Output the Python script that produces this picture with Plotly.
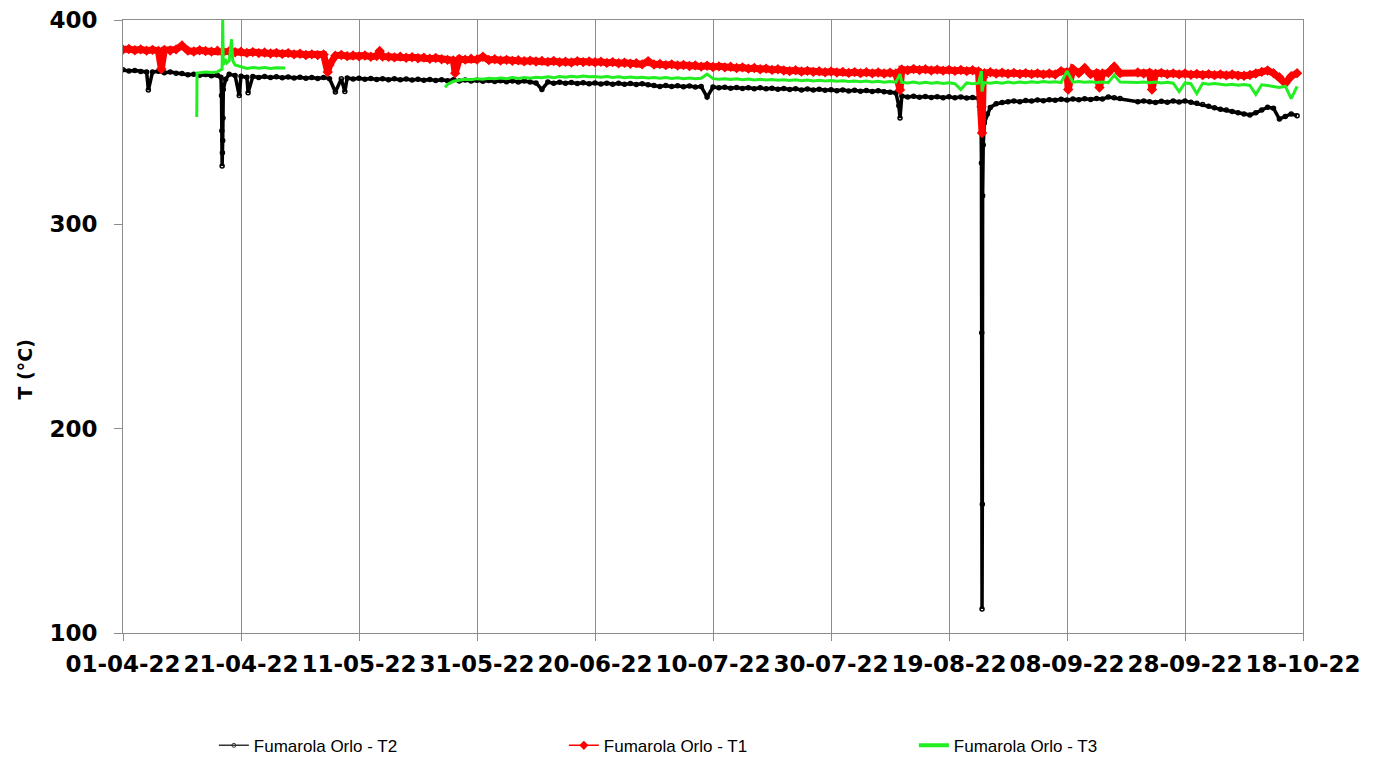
import pandas as pd
import plotly.graph_objects as go

START = "2022-04-01"
END = "2022-10-18"

# ---- Fumarola Orlo - T1 (red): daily readings, day 0 = 01-04-22; None = no data
t1_daily = [
    385.5, 385.8, 385.2, 385.6, 385.0, 385.4, 384.9, 385.3, 385.1, 385.6,
    387.5, 385.0, 384.6, 385.2, 384.8, 384.5, 385.0, 384.4, 384.7, 384.2,
    384.5, 383.9, 384.3, 383.8, 384.1, 383.6, 383.9, 383.4, 383.8, 383.2,
    383.5, 382.9, 383.2, 382.8, 383.1, 378.0, 382.5, 382.9, 382.3, 382.6,
    382.2, 382.6, 382.0, 382.4, 382.1, 382.0, 381.7, 382.1, 381.5, 381.8,
    381.3, 381.6, 381.0, 381.4, 380.8, 380.5, 380.2, 380.9, 380.6, 381.0,
    380.7, 382.0, 380.4, 380.8, 380.2, 380.5, 380.0, 380.3, 379.8, 380.1,
    379.7, 380.0, 379.5, 379.9, 379.3, 379.6, 379.2, 379.8, 379.4, 379.7,
    379.3, 379.6, 379.0, 379.4, 378.8, 379.1, 378.6, 378.9, 378.3, 379.8,
    378.2, 378.5, 377.9, 378.3, 377.7, 378.0, 377.5, 377.8, 377.2, 377.6,
    377.0, 377.3, 376.8, 377.1, 376.5, 376.8, 376.2, 376.5, 375.9, 376.2,
    375.6, 375.9, 375.3, 375.0, 375.4, 374.8, 375.1, 374.6, 374.9, 374.4,
    374.8, 374.3, 374.6, 374.1, 374.5, 374.0, 374.4, 373.9, 374.3, 373.8,
    374.2, 373.8, 375.8, 375.4, 376.0, 375.5, 375.9, 375.3, 375.7, 375.2,
    375.6, 375.1, 375.5, 375.0, 375.4, 374.8, 374.0, 374.4, 373.8, 374.2,
    373.7, 374.1, 373.6, 374.0, 373.5, 373.9, 373.4, 373.8, 373.3, 375.0,
    374.5, 376.0, 374.0, 376.5, 373.5, 374.0, 373.8, 374.2, 377.2, 374.0,
    None, None, 374.3, 373.8, 374.2, 373.7, 374.1, 373.5, 373.9, 373.4,
    373.8, 373.2, 373.6, 373.1, 373.5, 373.0, 373.4, 372.9, 373.3, 372.8,
    372.7, 373.1, 373.8, 374.6, 375.3, 374.0, 372.0, 369.0, 372.5, 374.0,
]
t1_evt_day = [6.5, 34.7, 43.5, 56.3, 131.7, 145.5, 145.6, 145.8, 160.2, 165.5, 174.4]
t1_evt_val = [376.0, 374.5, 384.8, 374.0, 365.8, 357.6, 344.7, 372.0, 366.0, 367.0, 366.0]

# ---- Fumarola Orlo - T2 (black)
t2_daily = [
    375.6, 375.0, 375.3, 374.8, 374.6, 374.5, 374.9, 374.2, 374.6, 374.0,
    373.8, 373.2, 373.5, 372.9, 373.3, 372.7, 373.0, 366.0, 373.5, 372.8,
    372.5, 372.0, 372.4, 371.9, 372.3, 371.8, 372.2, 371.7, 372.1, 371.6,
    372.0, 371.5, 371.9, 371.4, 371.8, 371.3, 364.8, 371.2, 371.6, 371.1,
    371.5, 371.0, 371.4, 370.9, 371.3, 370.8, 371.2, 370.7, 371.1, 370.6,
    371.0, 370.5, 370.9, 370.4, 370.8, 370.3, 370.7, 370.2, 370.6, 370.1,
    370.5, 370.0, 370.4, 369.9, 370.3, 369.8, 370.2, 369.7, 370.1, 369.6,
    369.2, 366.0, 369.6, 369.1, 369.5, 369.0, 369.4, 368.9, 369.3, 368.8,
    369.2, 368.7, 369.1, 368.6, 369.0, 368.5, 368.9, 368.4, 368.8, 368.3,
    368.0, 367.5, 367.9, 367.4, 367.8, 367.3, 367.7, 367.2, 367.4, 362.3,
    367.2, 366.8, 367.1, 366.6, 367.0, 366.5, 366.9, 366.4, 366.8, 366.3,
    366.6, 366.1, 366.5, 366.0, 366.3, 365.8, 366.2, 365.7, 366.1, 365.6,
    365.9, 365.4, 365.8, 365.3, 365.6, 365.1, 365.5, 365.0, 365.4, 364.9,
    364.6, 364.3, 362.8, 362.3, 362.7, 362.2, 362.6, 362.1, 362.5, 362.0,
    362.4, 361.9, 362.3, 361.8, 362.1, 361.7, 349.6, 357.2, 359.0, 359.6,
    360.0, 360.3, 360.0, 360.6, 360.3, 360.9, 360.5, 361.0, 360.7, 361.2,
    360.8, 361.3, 361.0, 361.5, 361.1, 361.6, 361.3, 362.3, 361.9, 361.6,
    None, None, 360.0, 360.4, 360.0, 359.6, 360.2, 359.8, 360.3, 359.9,
    360.4, 359.8, 359.2, 358.6, 357.8, 357.0, 356.3, 355.9, 355.2, 354.6,
    354.0, 353.5, 354.6, 356.0, 357.3, 356.8, 351.5, 352.8, 354.0, 353.2,
]
t2_evt_day = [4.3, 16.6, 16.7, 16.75, 16.8, 16.85, 16.9, 16.95, 17.4, 19.7, 21.2,
              37.6, 131.5, 131.7, 145.4, 145.5, 145.55, 145.6, 145.65, 145.7,
              145.8, 146.5]
t2_evt_val = [365.7, 372.0, 363.0, 345.8, 328.5, 335.0, 341.0, 352.0, 371.0, 363.0, 364.4,
              365.0, 358.0, 352.0, 361.5, 330.0, 247.0, 111.7, 163.0, 314.0,
              338.8, 354.0]

# ---- Fumarola Orlo - T3 (green): first block of readings, then a gap
t3_a_day = [12.5, 12.55, 13, 14, 15, 16, 16.8, 16.9, 17.0, 17.3, 17.6, 18.0,
            18.4, 18.6, 19, 20, 21, 22, 23, 24, 25, 26, 27, 27.5]
t3_a_val = [352.5, 374.0, 374.2, 374.5, 374.3, 374.6, 376.0, 400.0, 378.0, 381.0, 379.0, 380.0,
            390.6, 380.0, 378.0, 377.0, 376.3, 376.8, 376.4, 376.7, 376.3, 376.6, 376.4, 376.5]
# second block: daily readings from day 55
t3_b_first_day = 55
t3_b_daily = [
    368.5, 370.0, 370.6, 371.0, 370.8,
    371.3, 371.0, 371.5, 371.2, 371.6, 371.3, 371.8, 371.4, 371.9, 371.5,
    372.0, 371.7, 372.2, 371.8, 372.3, 372.0, 372.5, 372.1, 372.6, 372.2,
    372.4, 372.0, 372.3, 371.9, 372.2, 371.8, 372.1, 371.7, 372.0, 371.6,
    371.9, 371.5, 371.8, 371.4, 371.7, 371.3, 371.6, 371.2, 371.5, 373.5,
    371.3, 371.0, 371.3, 370.9, 371.2, 370.8, 371.1, 370.7, 371.0, 370.6,
    370.9, 370.5, 370.8, 370.4, 370.7, 370.3, 370.6, 370.2, 370.5, 370.1,
    370.4, 370.0, 370.3, 369.9, 370.2, 369.8, 370.1, 369.7, 370.0, 369.6,
    369.9, 369.6, 369.5, 369.2, 369.6, 369.1, 369.5, 369.0, 369.4, 368.9,
    369.3, 368.8, 366.0, 369.2, 368.8, 369.1, 369.4, 369.0, 369.5, 369.1,
    369.6, 369.2, 369.7, 369.3, 369.8, 369.4, 369.9, 369.5, 369.8, 369.4,
    375.0, 369.6, 369.9, 369.5, 369.8, 369.4, 369.7, 369.3, 373.0, 369.6,
    None, None, 369.4, 369.7, 369.3, 369.6, 369.2, 369.5, 369.1, 365.0,
    369.2, 368.8, 364.0, 369.0, 368.6, 368.9, 368.5, 368.2, 368.6, 368.1,
    368.4, 368.0, 363.6, 368.3, 367.9, 367.5, 367.0, 367.6, 361.5, 367.5,
]
t3_evt_day = [54.6, 131.7, 145.5, 145.6, 145.8]
t3_evt_val = [367.0, 373.5, 375.0, 365.0, 368.0]

Y_TICKS = [100, 200, 300, 400]
X_TICK_STEP_DAYS = 20


def merge(daily, evt_day, evt_val, first_day=0):
    """Combine the daily readings with the extra sub-daily readings, in time order."""
    pts = [(first_day + i, v) for i, v in enumerate(daily) if v is not None]
    pts += list(zip(evt_day, evt_val))
    pts.sort(key=lambda p: p[0])
    return [p[0] for p in pts], [p[1] for p in pts]


def to_time(days):
    return list(pd.Timestamp(START) + pd.to_timedelta(days, unit="D"))


t1_d, t1_v = merge(t1_daily, t1_evt_day, t1_evt_val)
t2_d, t2_v = merge(t2_daily, t2_evt_day, t2_evt_val)
t3_bd, t3_bv = merge(t3_b_daily, t3_evt_day, t3_evt_val, t3_b_first_day)
# a None between the two green blocks leaves the gap open
t3_d = t3_a_day + [40.0] + t3_bd
t3_v = t3_a_val + [None] + t3_bv

GRID = "#8c8c8c"
TICK_FONT = dict(family="DejaVu Sans", size=23, color="black", weight="bold")

fig = go.Figure()

fig.add_trace(go.Scatter(
    x=to_time(t2_d), y=t2_v, mode="lines+markers", showlegend=False,
    line=dict(color="black", width=3.5),
    marker=dict(symbol="circle-open", size=4, color="black", line=dict(width=1.5)),
))
fig.add_trace(go.Scatter(
    x=to_time(t1_d), y=t1_v, mode="lines+markers", showlegend=False,
    line=dict(color="#ff0000", width=7),
    marker=dict(symbol="diamond", size=8, color="#ff0000"),
))
fig.add_trace(go.Scatter(
    x=to_time(t3_d), y=t3_v, mode="lines", showlegend=False, connectgaps=False,
    line=dict(color="#22ee22", width=3),
))

# legend entries
fig.add_trace(go.Scatter(
    x=[None], y=[None], mode="lines+markers", name="Fumarola Orlo - T2",
    line=dict(color="#333333", width=1.5),
    marker=dict(symbol="circle-open", size=4, color="#333333"),
))
fig.add_trace(go.Scatter(
    x=[None], y=[None], mode="lines+markers", name="Fumarola Orlo - T1",
    line=dict(color="#ff0000", width=1.5),
    marker=dict(symbol="diamond", size=7, color="#ff0000"),
))
fig.add_trace(go.Scatter(
    x=[None], y=[None], mode="lines", name="Fumarola Orlo - T3",
    line=dict(color="#22ee22", width=4),
))

fig.update_layout(
    width=1376, height=762,
    margin=dict(l=123, r=73, t=20, b=129, autoexpand=False),
    paper_bgcolor="white", plot_bgcolor="white",
    legend=dict(
        orientation="h", x=0.077, y=-0.184, xanchor="left", yanchor="middle",
        font=dict(family="Liberation Sans", size=17, color="black"),
        entrywidth=305, entrywidthmode="pixels", itemwidth=30,
    ),
    annotations=[dict(
        text="T (°C)", textangle=-90, showarrow=False,
        xref="paper", yref="paper", x=-0.083, y=0.43,
        xanchor="center", yanchor="middle",
        font=dict(family="DejaVu Sans", size=19, color="black", weight="bold"),
    )],
)
fig.update_xaxes(
    type="date", range=[START, END], automargin=False,
    tick0=START, dtick=X_TICK_STEP_DAYS * 86400000, tickformat="%d-%m-%y",
    showgrid=True, gridcolor=GRID, gridwidth=1,
    showline=True, linecolor=GRID, linewidth=1, mirror=True,
    ticks="outside", ticklen=7, tickcolor=GRID, ticklabelstandoff=3,
    tickfont=TICK_FONT, zeroline=False,
)
fig.update_yaxes(
    range=[100, 400], tickvals=Y_TICKS, automargin=False,
    showgrid=False, showline=True, linecolor=GRID, linewidth=1, mirror=True,
    ticks="outside", ticklen=8, tickcolor=GRID, ticklabelstandoff=12,
    tickfont=TICK_FONT, zeroline=False,
)

fig.write_html("out.html")
